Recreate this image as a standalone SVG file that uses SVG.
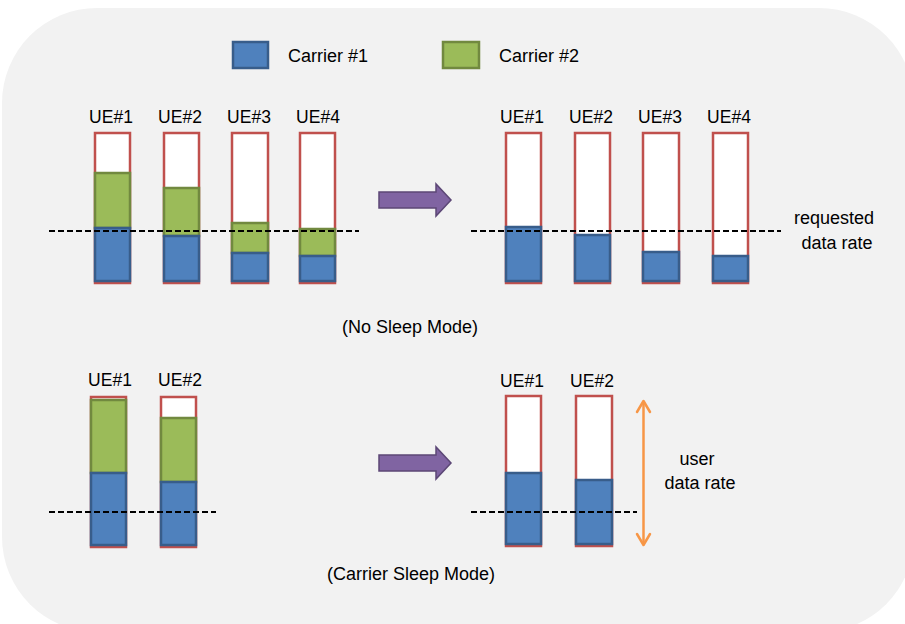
<svg xmlns="http://www.w3.org/2000/svg" width="905" height="624" viewBox="0 0 905 624">
<style>
text{font-family:"Liberation Sans",Arial,sans-serif;font-size:18px;fill:#000;}
.ue{font-size:17.5px;}
.c{text-anchor:middle;}
.frame{fill:#fff;stroke:#c0504d;stroke-width:2.5;}
.blue{fill:#4f81bd;stroke:#385d8a;stroke-width:2.5;}
.green{fill:#9bbb59;stroke:#71893f;stroke-width:2.5;}
.dash{stroke:#000;stroke-width:1.8;stroke-dasharray:6,3;fill:none;}
.parrow{fill:#8064a2;stroke:#5c4776;stroke-width:1.5;}
</style>
<rect x="0" y="0" width="905" height="624" fill="#fff"/>
<rect x="2" y="8" width="912" height="624" rx="95" ry="95" fill="#f2f2f2"/>
<g id="legend">
<rect class="blue" x="233" y="42" width="35" height="26"/>
<text x="288" y="62">Carrier #1</text>
<rect class="green" x="443" y="42" width="36" height="26"/>
<text x="499" y="62">Carrier #2</text>
</g>
<g id="top-left">
<g id="tl-ue1"><text class="c ue" x="111" y="123">UE#1</text><rect class="frame" x="95" y="133" width="35" height="150"/><rect class="green" x="95" y="173" width="35" height="55"/><rect class="blue" x="95" y="228" width="35" height="53"/></g>
<g id="tl-ue2"><text class="c ue" x="180" y="123">UE#2</text><rect class="frame" x="164" y="133" width="35" height="150"/><rect class="green" x="164" y="188" width="35" height="48"/><rect class="blue" x="164" y="236" width="35" height="45"/></g>
<g id="tl-ue3"><text class="c ue" x="249" y="123">UE#3</text><rect class="frame" x="232" y="133" width="36" height="150"/><rect class="green" x="232" y="223" width="36" height="30"/><rect class="blue" x="232" y="253" width="36" height="28"/></g>
<g id="tl-ue4"><text class="c ue" x="318" y="123">UE#4</text><rect class="frame" x="300" y="133" width="35" height="150"/><rect class="green" x="300" y="229" width="35" height="27"/><rect class="blue" x="300" y="256" width="35" height="25"/></g>
</g>
<g id="top-right">
<g id="tr-ue1"><text class="c ue" x="522" y="123">UE#1</text><rect class="frame" x="506" y="133" width="35" height="150"/><rect class="blue" x="506" y="227" width="35" height="54"/></g>
<g id="tr-ue2"><text class="c ue" x="591" y="123">UE#2</text><rect class="frame" x="575" y="133" width="35" height="150"/><rect class="blue" x="575" y="235" width="35" height="46"/></g>
<g id="tr-ue3"><text class="c ue" x="660" y="123">UE#3</text><rect class="frame" x="643" y="133" width="36" height="150"/><rect class="blue" x="643" y="252" width="36" height="29"/></g>
<g id="tr-ue4"><text class="c ue" x="729" y="123">UE#4</text><rect class="frame" x="713" y="133" width="35" height="150"/><rect class="blue" x="713" y="256" width="35" height="25"/></g>
<g id="req-label"><text class="c" x="834" y="224">requested</text><text class="c" x="837" y="249">data rate</text></g>
</g>
<text id="no-sleep" class="c" x="410" y="333">(No Sleep Mode)</text>
<g id="bottom-left">
<g id="bl-ue1"><text class="c ue" x="110" y="386">UE#1</text><rect class="frame" x="91" y="397" width="35" height="150"/><rect class="green" x="91" y="400" width="35" height="73"/><rect class="blue" x="91" y="473" width="35" height="72"/></g>
<g id="bl-ue2"><text class="c ue" x="180" y="386">UE#2</text><rect class="frame" x="161" y="397" width="35" height="150"/><rect class="green" x="161" y="418" width="35" height="64"/><rect class="blue" x="161" y="482" width="35" height="63"/></g>
</g>
<g id="bottom-right">
<g id="br-ue1"><text class="c ue" x="522" y="387">UE#1</text><rect class="frame" x="506" y="396" width="35" height="150"/><rect class="blue" x="506" y="473" width="35" height="71"/></g>
<g id="br-ue2"><text class="c ue" x="592" y="387">UE#2</text><rect class="frame" x="576" y="396" width="36" height="150"/><rect class="blue" x="576" y="480" width="36" height="64"/></g>
<g id="user-label"><text class="c" x="697" y="465">user</text><text class="c" x="700" y="489">data rate</text></g>
</g>
<text id="sleep" class="c" x="411" y="580">(Carrier Sleep Mode)</text>
<g id="connectors">
<line class="dash" x1="49" y1="231" x2="359" y2="231"/>
<line class="dash" x1="471" y1="231" x2="781" y2="231"/>
<line class="dash" x1="49" y1="512" x2="216" y2="512"/>
<line class="dash" x1="471" y1="512" x2="637" y2="512"/>
<path class="parrow" d="M379,192 H436 V184 L451,200 L436,216 V208 H379 Z"/>
<path class="parrow" d="M379,455 H436 V447 L451,463 L436,479 V471 H379 Z"/>
<g fill="none" stroke="#f79646" stroke-width="2.5" stroke-linecap="round" stroke-linejoin="round">
<line x1="643.5" y1="402" x2="643.5" y2="544"/>
<polyline points="637,412 643.5,401 650,412"/>
<polyline points="637,534 643.5,545 650,534"/>
</g>
</g>
</svg>
